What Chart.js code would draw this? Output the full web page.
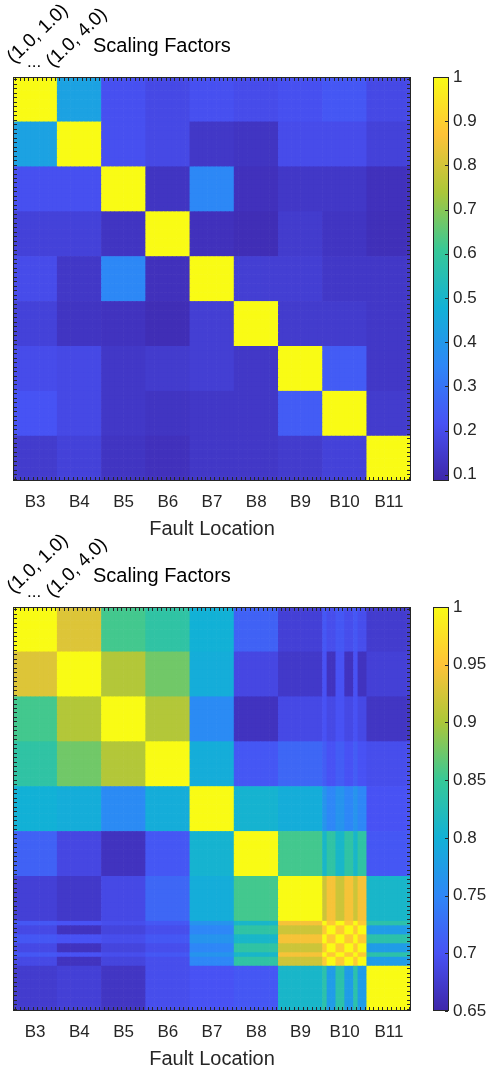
<!DOCTYPE html>
<html>
<head>
<meta charset="utf-8">
<script src="https://cdn.jsdelivr.net/npm/chart.js@4.4.0/dist/chart.umd.min.js"></script>
<style>
  body { margin: 0; background: #fff; width: 487px; height: 1067px; position: relative; overflow: hidden; }
  canvas { position: absolute; left: 0; }
</style>
</head>
<body>
<canvas id="topChart" width="487" height="545" style="top:0px"></canvas>
<canvas id="bottomChart" width="487" height="545" style="top:530px"></canvas>
<script>
// fault locations (blocks) and scaling-factor sub cells in each block
const categories = ["B3", "B4", "B5", "B6", "B7", "B8", "B9", "B10", "B11"];
const subCells = 10;

// upper map: block values, rows B3..B11 (top to bottom), columns B3..B11
const topRange = [0.086, 1];
const topTicks = [0.1, 0.2, 0.3, 0.4, 0.5, 0.6, 0.7, 0.8, 0.9, 1];
const topBlocks = [
  [1.00, 0.43, 0.21, 0.19, 0.21, 0.20, 0.21, 0.23, 0.19],
  [0.43, 1.00, 0.21, 0.19, 0.14, 0.13, 0.20, 0.20, 0.17],
  [0.21, 0.21, 1.00, 0.13, 0.35, 0.12, 0.14, 0.14, 0.12],
  [0.17, 0.17, 0.13, 1.00, 0.12, 0.11, 0.15, 0.13, 0.115],
  [0.20, 0.14, 0.35, 0.12, 1.00, 0.16, 0.16, 0.14, 0.14],
  [0.17, 0.13, 0.125, 0.11, 0.16, 1.00, 0.15, 0.15, 0.14],
  [0.20, 0.19, 0.14, 0.15, 0.16, 0.14, 1.00, 0.24, 0.14],
  [0.22, 0.19, 0.14, 0.13, 0.14, 0.14, 0.24, 1.00, 0.15],
  [0.15, 0.17, 0.13, 0.12, 0.14, 0.14, 0.15, 0.17, 1.00]
];

// lower map
const bottomRange = [0.65, 1];
const bottomTicks = [0.65, 0.7, 0.75, 0.8, 0.85, 0.9, 0.95, 1];
const bottomBlocks = [
  [1.00, 0.93, 0.855, 0.84, 0.80, 0.715, 0.68, 0.70, 0.675],
  [0.93, 1.00, 0.905, 0.875, 0.795, 0.688, 0.672, 0.69, 0.68],
  [0.855, 0.905, 1.00, 0.905, 0.755, 0.665, 0.69, 0.695, 0.668],
  [0.84, 0.875, 0.905, 1.00, 0.795, 0.705, 0.72, 0.705, 0.695],
  [0.80, 0.795, 0.755, 0.795, 1.00, 0.805, 0.795, 0.76, 0.70],
  [0.715, 0.688, 0.665, 0.705, 0.805, 1.00, 0.855, 0.825, 0.705],
  [0.68, 0.672, 0.69, 0.72, 0.795, 0.855, 1.00, 0.935, 0.81],
  [0.70, 0.69, 0.695, 0.705, 0.76, 0.825, 0.935, 1.00, 0.805],
  [0.675, 0.68, 0.668, 0.695, 0.70, 0.705, 0.81, 0.805, 1.00]
];
// B10 sub cells fall in two groups, giving the striped band
const b10Index = 7;
const b10Group = [0, 1, 1, 0, 0, 1, 1, 0, 1, 1];
const b10SelfVals = [1.0, 0.955];            // same group, other group
const b10ColVals = [                          // row block vs B10 sub columns [g0, g1]
  [0.705, 0.695], [0.70, 0.665], [0.70, 0.69], [0.71, 0.70], [0.765, 0.75],
  [0.81, 0.84], [0.92, 0.945], null, [0.835, 0.775]
];
const b10RowVals = [                          // B10 sub rows vs column block [g0, g1]
  [0.705, 0.69], [0.70, 0.665], [0.695, 0.685], [0.705, 0.695], [0.765, 0.75],
  [0.81, 0.84], [0.945, 0.92], null, [0.835, 0.775]
];

const parulaStops = [
  [62, 38, 168], [72, 82, 244], [46, 135, 247], [18, 177, 214],
  [55, 200, 151], [171, 199, 57], [254, 195, 56], [249, 251, 21]
];
const FONT = "'Liberation Sans', Arial, Helvetica, sans-serif";
const INK = "#262626";

function parula(t) {
  t = Math.max(0, Math.min(1, t));
  let p = t * (parulaStops.length - 1);
  let i = Math.min(Math.floor(p), parulaStops.length - 2);
  let f = p - i;
  let a = parulaStops[i], b = parulaStops[i + 1];
  let c = a.map((v, k) => Math.round(v + (b[k] - v) * f));
  return `rgb(${c[0]},${c[1]},${c[2]})`;
}

function cellValue(blocks, striped, r, c) {
  let br = Math.floor(r / subCells), bc = Math.floor(c / subCells);
  let gr = b10Group[r % subCells], gc = b10Group[c % subCells];
  if (striped) {
    if (br === b10Index && bc === b10Index) return r === c || gr === gc ? b10SelfVals[0] : b10SelfVals[1];
    if (br === b10Index) return b10RowVals[bc][gr];
    if (bc === b10Index) return b10ColVals[br][gc];
  }
  return blocks[br][bc];
}

const decor = {
  id: "decor",
  afterDraw(chart) {
    const ctx = chart.ctx, ca = chart.chartArea;
    const xs = chart.scales.x, ys = chart.scales.y, cb = chart.scales.cb;
    ctx.save();
    ctx.strokeStyle = INK;
    ctx.lineWidth = 1;
    // inward ticks, one per sub cell
    ctx.beginPath();
    for (let i = 0; i < categories.length * subCells; i++) {
      let px = Math.round(xs.getPixelForValue(i + 0.5)) + 0.5;
      ctx.moveTo(px, ca.top); ctx.lineTo(px, ca.top + 4);
      ctx.moveTo(px, ca.bottom); ctx.lineTo(px, ca.bottom - 4);
      let py = Math.round(ys.getPixelForValue(i + 0.5)) + 0.5;
      ctx.moveTo(ca.left, py); ctx.lineTo(ca.left + 4, py);
      ctx.moveTo(ca.right, py); ctx.lineTo(ca.right - 4, py);
    }
    ctx.stroke();
    ctx.strokeRect(Math.round(ca.left) + 0.5, Math.round(ca.top) + 0.5,
      Math.round(ca.right - ca.left) - 1, Math.round(ca.bottom - ca.top) - 1);

    // colour bar
    const bx = 433, bw = 16;
    let g = ctx.createLinearGradient(0, ca.bottom, 0, ca.top);
    parulaStops.forEach((s, i) => g.addColorStop(i / (parulaStops.length - 1), `rgb(${s[0]},${s[1]},${s[2]})`));
    ctx.fillStyle = g;
    ctx.fillRect(bx, ca.top, bw, ca.bottom - ca.top);
    ctx.strokeRect(bx + 0.5, Math.round(ca.top) + 0.5, bw - 1, Math.round(ca.bottom - ca.top) - 1);
    ctx.beginPath();
    cb.ticks.forEach(t => {
      let py = Math.round(cb.getPixelForValue(t.value)) + 0.5;
      ctx.moveTo(bx + bw - 1, py); ctx.lineTo(bx + bw - 4, py);
    });
    ctx.stroke();

    // heading texts
    ctx.fillStyle = "#000";
    ctx.font = `20px ${FONT}`;
    ctx.textBaseline = "alphabetic";
    ctx.textAlign = "left";
    ctx.fillText("Scaling Factors", 93, 52);
    ctx.font = `17px ${FONT}`;
    ctx.fillText("...", 27, 67);
    ctx.font = `19px ${FONT}`;
    ctx.save();
    ctx.translate(14, 64); ctx.rotate(-Math.PI / 4.1);
    ctx.fillText("(1.0, 1.0)", 0, 0);
    ctx.restore();
    ctx.save();
    ctx.translate(53, 68); ctx.rotate(-Math.PI / 4.1);
    ctx.fillText("(1.0, 4.0)", 0, 0);
    ctx.restore();
    ctx.restore();
  }
};

function makeChart(id, blocks, range, ticks, striped) {
  let n = categories.length * subCells;
  let cells = [], colors = [];
  for (let r = 0; r < n; r++) {
    for (let c = 0; c < n; c++) {
      let v = cellValue(blocks, striped, r, c);
      cells.push({ x: c + 0.5, y: [r, r + 1] });
      colors.push(parula((v - range[0]) / (range[1] - range[0])));
    }
  }
  new Chart(document.getElementById(id), {
    type: "bar",
    data: {
      datasets: [{
        data: cells,
        backgroundColor: colors,
        borderWidth: 0,
        barPercentage: 1,
        categoryPercentage: 1
      }]
    },
    options: {
      responsive: false,
      animation: false,
      events: [],
      layout: { padding: { left: 13, top: 77, right: 0, bottom: 0 } },
      scales: {
        x: {
          type: "linear", min: 0, max: n, offset: false,
          grid: { display: false, drawTicks: false, offset: false },
          border: { display: false },
          afterBuildTicks: s => { s.ticks = categories.map((c, i) => ({ value: i * subCells + subCells / 2 })); },
          afterFit: s => { s.height = 545 - 481; },
          ticks: {
            autoSkip: false, maxRotation: 0, padding: 11, color: INK,
            font: { family: FONT, size: 17 },
            callback: v => categories[Math.floor(v / subCells)]
          },
          title: {
            display: true, text: "Fault Location", color: INK,
            font: { family: FONT, size: 20, lineHeight: 1.2 },
            padding: { top: 0, bottom: 4 }
          }
        },
        y: { type: "linear", min: 0, max: n, reverse: true, display: false },
        cb: {
          type: "linear", position: "right", min: range[0], max: range[1],
          grid: { display: false, drawTicks: false },
          border: { display: false },
          afterBuildTicks: s => { s.ticks = ticks.map(v => ({ value: v })); },
          afterFit: s => { s.width = 76; },
          ticks: { padding: 42, color: INK, font: { family: FONT, size: 17 }, callback: v => String(v) }
        }
      },
      plugins: { legend: { display: false }, tooltip: { enabled: false } }
    },
    plugins: [decor]
  });
}

makeChart("topChart", topBlocks, topRange, topTicks, false);
makeChart("bottomChart", bottomBlocks, bottomRange, bottomTicks, true);
</script>
</body>
</html>
